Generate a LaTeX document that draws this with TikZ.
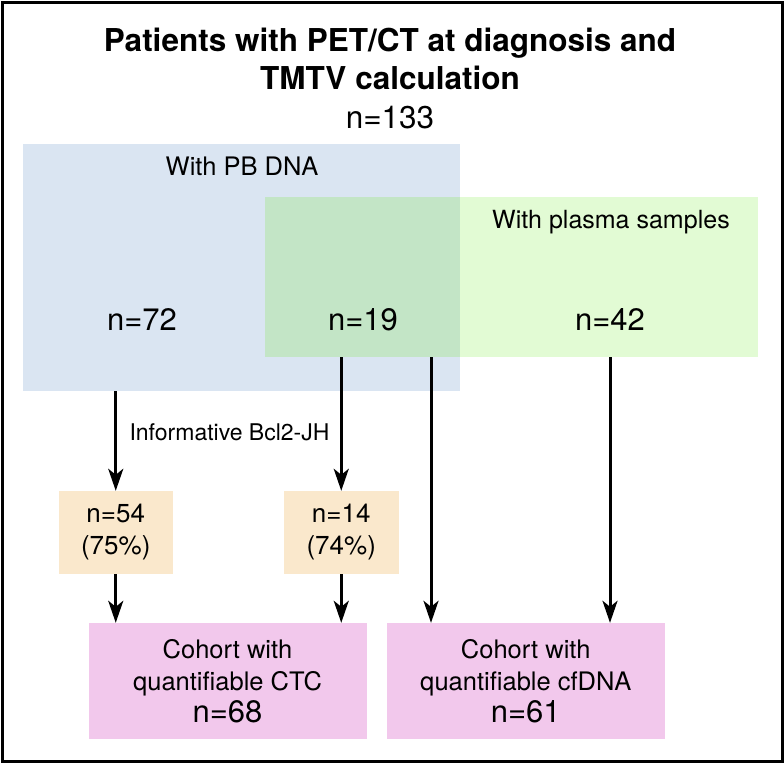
\documentclass[tikz,border=0pt]{standalone}
\usepackage{fontspec}
\setmainfont{TeX Gyre Heros}
\usetikzlibrary{arrows.meta}

\definecolor{pbblue}{HTML}{DAE5F2}
\definecolor{plasmagreen}{HTML}{E2FBD4}
\definecolor{bothgreen}{HTML}{C3E5C6}
\definecolor{infoorange}{HTML}{FAE8CC}
\definecolor{cohortpink}{HTML}{F2C8EC}

\tikzset{
  arr/.style={-{Stealth[length=22pt,width=15pt,inset=6pt]}, line width=3pt},
  region/.style={inner sep=0pt, minimum width=#1},
  infobox/.style={fill=infoorange, minimum width=114.5pt, minimum height=83pt, align=center,
    font=\fontsize{26}{32}\selectfont},
  cohortbox/.style={fill=cohortpink, minimum width=278pt, minimum height=116pt, align=center,
    font=\fontsize{25.5}{32}\selectfont},
  count/.style={font=\fontsize{31}{34}\selectfont}
}

\begin{document}
\begin{tikzpicture}[x=1pt, y=-1pt]
\useasboundingbox (0,0) rectangle (784,763);
% Frame
\draw[line width=3pt] (2,2) rectangle (782,761);

% Title
\node[align=center, font=\bfseries\fontsize{31.5}{38}\selectfont] (title) at (390,59)
  {Patients with PET/CT at diagnosis and\\TMTV calculation};
\node[font=\fontsize{31.5}{34}\selectfont] (n133) at (390,118) {n=133};

% Sample regions
\node[region=437pt, minimum height=247pt, fill=pbblue] (pb) at (241.5,267.5) {};
\node[region=493pt, minimum height=160pt, fill=plasmagreen] (plasma) at (511.5,277) {};
\fill[bothgreen] (plasma.north west) rectangle (pb.east |- plasma.south);
\node[font=\fontsize{25.5}{30}\selectfont] (pblabel) at (242,166) {With PB DNA};
\node[font=\fontsize{25}{30}\selectfont] (plasmalabel) at (611,222) {With plasma samples};
\node[count] (n72) at (142,320) {n=72};
\node[count] (n19) at (363,320) {n=19};
\node[count] (n42) at (610,320) {n=42};

% Informative boxes
\node[infobox] (pos54) at (115.75,532.5) {n=54\\(75\%)};
\node[infobox] (pos14) at (341.25,532.5) {n=14\\(74\%)};

% Cohorts
\node[cohortbox] (ctc) at (227.5,681) {Cohort with\\quantifiable CTC\\{\fontsize{31}{35}\selectfont n=68}};
\node[cohortbox] (cfdna) at (525.75,681) {Cohort with\\quantifiable cfDNA\\{\fontsize{31}{35}\selectfont n=61}};
\coordinate (split) at (431,357);

% Connections
\draw[arr] (pos54.north |- pb.south) -- (pos54);
\draw[arr] (pos14.north |- plasma.south) -- (pos14);
\draw[arr] (split) -- (split |- cfdna.north);
\draw[arr] (n42 |- plasma.south) -- (n42 |- cfdna.north);
\draw[arr] (pos54) -- (pos54 |- ctc.north);
\draw[arr] (pos14) -- (pos14 |- ctc.north);

% Labels
\node[anchor=west, font=\fontsize{23}{26}\selectfont] (bcl2) at (126,432) {Informative Bcl2-JH};
\end{tikzpicture}
\end{document}
